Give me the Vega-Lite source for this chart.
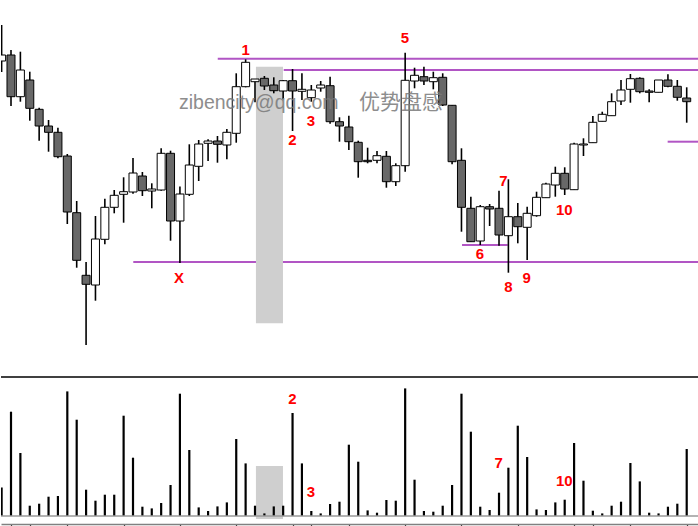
{
  "$schema": "https://vega.github.io/schema/vega-lite/v6.json",
  "padding": 0,
  "spacing": 0,
  "background": "white",
  "config": {"view": {"stroke": null}},
  "datasets": {
    "candles": [
      {"i":0,"o":43.9,"h":47.5,"l":42.8,"c":44.5,"v":2860},
      {"i":1,"o":44.5,"h":45.0,"l":39.4,"c":40.33,"v":10430},
      {"i":2,"o":40.33,"h":44.83,"l":39.83,"c":43.0,"v":6300},
      {"i":3,"o":42.0,"h":42.83,"l":37.93,"c":39.17,"v":1030},
      {"i":4,"o":39.07,"h":39.23,"l":35.93,"c":37.4,"v":1230},
      {"i":5,"o":37.4,"h":38.0,"l":34.83,"c":36.77,"v":1930},
      {"i":6,"o":36.77,"h":37.23,"l":34.17,"c":34.33,"v":2000},
      {"i":7,"o":34.4,"h":34.6,"l":27.6,"c":28.8,"v":12460},
      {"i":8,"o":28.73,"h":29.9,"l":23.23,"c":23.97,"v":9630},
      {"i":9,"o":22.47,"h":23.8,"l":15.5,"c":21.57,"v":2630},
      {"i":10,"o":21.5,"h":28.4,"l":19.93,"c":26.1,"v":1530},
      {"i":11,"o":26.07,"h":30.13,"l":25.57,"c":29.27,"v":2130},
      {"i":12,"o":29.27,"h":31.0,"l":28.67,"c":30.47,"v":2130},
      {"i":13,"o":30.57,"h":32.27,"l":27.73,"c":30.83,"v":10030},
      {"i":14,"o":30.8,"h":34.2,"l":30.63,"c":32.7,"v":5830},
      {"i":15,"o":32.4,"h":32.8,"l":30.4,"c":30.93,"v":930},
      {"i":16,"o":30.9,"h":31.67,"l":29.17,"c":31.1,"v":760},
      {"i":17,"o":31.0,"h":35.17,"l":30.93,"c":34.67,"v":1300},
      {"i":18,"o":34.67,"h":34.93,"l":25.93,"c":27.9,"v":3100},
      {"i":19,"o":27.9,"h":31.35,"l":23.7,"c":30.6,"v":12230},
      {"i":20,"o":30.57,"h":35.57,"l":30.4,"c":33.5,"v":6600},
      {"i":21,"o":33.37,"h":36.0,"l":31.9,"c":35.6,"v":860},
      {"i":22,"o":35.67,"h":36.07,"l":33.9,"c":35.9,"v":500},
      {"i":23,"o":35.9,"h":36.4,"l":33.73,"c":35.57,"v":960},
      {"i":24,"o":35.5,"h":37.1,"l":34.07,"c":36.77,"v":1360},
      {"i":25,"o":36.67,"h":42.67,"l":35.73,"c":41.33,"v":7700},
      {"i":26,"o":41.33,"h":44.07,"l":41.27,"c":43.77,"v":5260},
      {"i":27,"o":41.83,"h":42.1,"l":39.77,"c":42.1,"v":1030},
      {"i":28,"o":42.17,"h":42.4,"l":41.0,"c":41.4,"v":260},
      {"i":29,"o":41.5,"h":42.27,"l":40.67,"c":40.93,"v":960},
      {"i":30,"o":40.9,"h":42.0,"l":40.07,"c":41.93,"v":1030},
      {"i":31,"o":41.93,"h":43.1,"l":36.9,"c":40.9,"v":10300},
      {"i":32,"o":40.87,"h":42.67,"l":40.0,"c":41.07,"v":5260},
      {"i":33,"o":40.23,"h":41.5,"l":39.83,"c":41.0,"v":500},
      {"i":34,"o":41.2,"h":41.9,"l":40.83,"c":41.5,"v":260},
      {"i":35,"o":41.43,"h":42.33,"l":37.63,"c":37.83,"v":1200},
      {"i":36,"o":37.83,"h":38.27,"l":35.83,"c":37.4,"v":1430},
      {"i":37,"o":37.3,"h":38.43,"l":35.0,"c":35.83,"v":7130},
      {"i":38,"o":35.77,"h":35.93,"l":32.23,"c":33.83,"v":5430},
      {"i":39,"o":33.97,"h":35.23,"l":33.67,"c":33.83,"v":560},
      {"i":40,"o":33.97,"h":34.9,"l":33.67,"c":34.43,"v":330},
      {"i":41,"o":34.37,"h":34.9,"l":31.23,"c":31.83,"v":1600},
      {"i":42,"o":31.83,"h":33.67,"l":31.4,"c":33.43,"v":1530},
      {"i":43,"o":33.43,"h":44.73,"l":32.83,"c":41.97,"v":12760},
      {"i":44,"o":41.9,"h":43.23,"l":41.17,"c":42.47,"v":3630},
      {"i":45,"o":42.33,"h":43.33,"l":41.5,"c":41.9,"v":500},
      {"i":46,"o":41.83,"h":42.83,"l":41.07,"c":42.23,"v":430},
      {"i":47,"o":42.27,"h":42.67,"l":39.4,"c":39.5,"v":1030},
      {"i":48,"o":39.47,"h":39.47,"l":33.57,"c":33.83,"v":3100},
      {"i":49,"o":33.97,"h":35.17,"l":26.83,"c":29.27,"v":12230},
      {"i":50,"o":29.17,"h":30.33,"l":25.83,"c":25.83,"v":8430},
      {"i":51,"o":25.9,"h":29.5,"l":25.5,"c":29.33,"v":930},
      {"i":52,"o":29.33,"h":29.6,"l":27.4,"c":29.1,"v":600},
      {"i":53,"o":29.17,"h":30.93,"l":25.43,"c":26.5,"v":2330},
      {"i":54,"o":26.43,"h":32.07,"l":22.73,"c":28.33,"v":4830},
      {"i":55,"o":28.33,"h":29.7,"l":25.67,"c":27.33,"v":9030},
      {"i":56,"o":27.27,"h":29.33,"l":24.0,"c":28.67,"v":5900},
      {"i":57,"o":28.43,"h":30.83,"l":28.33,"c":30.27,"v":660},
      {"i":58,"o":30.23,"h":31.73,"l":30.23,"c":31.6,"v":600},
      {"i":59,"o":31.5,"h":33.33,"l":30.33,"c":32.67,"v":1360},
      {"i":60,"o":32.67,"h":33.27,"l":30.5,"c":31.1,"v":1630},
      {"i":61,"o":31.03,"h":35.73,"l":31.0,"c":35.6,"v":7300},
      {"i":62,"o":35.5,"h":36.17,"l":34.4,"c":35.6,"v":3530},
      {"i":63,"o":35.73,"h":38.4,"l":35.73,"c":37.77,"v":530},
      {"i":64,"o":37.87,"h":38.83,"l":37.87,"c":38.57,"v":260},
      {"i":65,"o":38.43,"h":40.67,"l":38.43,"c":39.83,"v":1030},
      {"i":66,"o":39.9,"h":42.0,"l":39.5,"c":41.0,"v":1430},
      {"i":67,"o":41.07,"h":42.6,"l":39.73,"c":42.13,"v":5300},
      {"i":68,"o":42.17,"h":42.27,"l":40.67,"c":40.83,"v":3460},
      {"i":69,"o":40.9,"h":41.07,"l":39.77,"c":40.77,"v":330},
      {"i":70,"o":40.77,"h":42.0,"l":40.77,"c":42.0,"v":260},
      {"i":71,"o":42.0,"h":42.57,"l":41.27,"c":41.37,"v":930},
      {"i":72,"o":41.37,"h":42.0,"l":39.93,"c":40.27,"v":1230},
      {"i":73,"o":40.2,"h":41.27,"l":37.73,"c":39.83,"v":6700}
    ],
    "levels": [
      {"x1":23.03,"x2":74.31,"p":44.13},
      {"x1":30.06,"x2":74.31,"p":43.0},
      {"x1":14.03,"x2":74.31,"p":23.8},
      {"x1":49.06,"x2":53.93,"p":25.5},
      {"x1":70.97,"x2":74.31,"p":35.83}
    ],
    "labels": [
      {"t":"1","i":26.0,"p":45.0},
      {"t":"2","i":31.0,"p":36.0},
      {"t":"3","i":32.97,"p":37.93},
      {"t":"5","i":42.98,"p":46.23},
      {"t":"6","i":50.97,"p":24.6},
      {"t":"7","i":53.46,"p":31.9},
      {"t":"8","i":53.99,"p":21.33},
      {"t":"9","i":55.95,"p":22.23},
      {"t":"10","i":59.96,"p":29.0},
      {"t":"X","i":18.9,"p":22.2}
    ],
    "vlabels": [
      {"t":"2","i":31.0,"v":11670},
      {"t":"3","i":32.97,"v":2400},
      {"t":"7","i":52.97,"v":5270},
      {"t":"10","i":59.96,"v":3500}
    ],
    "edges": [{"v": 0, "k": "base"}, {"v": 13900, "k": "top"}],
    "shade": [{"a": 27.1, "b": 29.98, "p1": 43.33, "p2": 17.67, "v1": 5000, "v2": -300}]
  },
  "vconcat": [
    {
      "width": 698,
      "height": 376,
      "layer": [
        {
          "data": {"name": "levels"},
          "mark": {"type": "rule", "color": "#b155c4", "strokeWidth": 2},
          "encoding": {
            "x": {"field": "x1", "type": "quantitative", "scale": {"domain": [-0.0655, 74.31], "nice": false, "zero": false, "padding": 0}, "axis": null},
            "x2": {"field": "x2"},
            "y": {"field": "p", "type": "quantitative", "scale": {"domain": [12.4, 50], "nice": false, "zero": false, "padding": 0}, "axis": null}
          }
        },
        {
          "data": {"name": "shade"},
          "mark": {"type": "rect", "color": "#cfcfcf"},
          "encoding": {
            "x": {"field": "a", "type": "quantitative"},
            "x2": {"field": "b"},
            "y": {"field": "p1", "type": "quantitative"},
            "y2": {"field": "p2"}
          }
        },
        {
          "data": {"name": "candles"},
          "mark": {"type": "rule", "color": "black", "strokeWidth": 1.6, "clip": true},
          "encoding": {
            "x": {"field": "i", "type": "quantitative"},
            "y": {"field": "l", "type": "quantitative"},
            "y2": {"field": "h"}
          }
        },
        {
          "data": {"name": "candles"},
          "mark": {"type": "bar", "size": 8, "stroke": "black", "strokeWidth": 1, "clip": true},
          "encoding": {
            "x": {"field": "i", "type": "quantitative"},
            "y": {"field": "o", "type": "quantitative"},
            "y2": {"field": "c"},
            "fill": {"condition": {"test": "datum.c >= datum.o", "value": "white"}, "value": "#686868"}
          }
        },
        {
          "data": {"values": [{"t": "zibencity@qq.com", "i": 18.9, "p": 39.13}]},
          "mark": {"type": "text", "align": "left", "baseline": "alphabetic", "font": "Liberation Sans", "fontSize": 19.5, "color": "#7a7a7a", "opacity": 0.85},
          "encoding": {
            "x": {"field": "i", "type": "quantitative"},
            "y": {"field": "p", "type": "quantitative"},
            "text": {"field": "t", "type": "nominal"}
          }
        },
        {
          "data": {"values": [{"t": "优势盘感", "i": 38.08, "p": 39.13}]},
          "mark": {"type": "text", "align": "left", "baseline": "alphabetic", "font": "Noto Sans CJK SC", "fontSize": 21, "color": "#7a7a7a", "opacity": 0.85},
          "encoding": {
            "x": {"field": "i", "type": "quantitative"},
            "y": {"field": "p", "type": "quantitative"},
            "text": {"field": "t", "type": "nominal"}
          }
        },
        {
          "data": {"name": "labels"},
          "mark": {"type": "text", "align": "center", "baseline": "middle", "font": "Liberation Sans", "fontWeight": "bold", "fontSize": 15, "color": "#ff0000"},
          "encoding": {
            "x": {"field": "i", "type": "quantitative"},
            "y": {"field": "p", "type": "quantitative"},
            "text": {"field": "t", "type": "nominal"}
          }
        }
      ]
    },
    {
      "width": 698,
      "height": 139,
      "layer": [
        {
          "data": {"name": "shade"},
          "mark": {"type": "rect", "color": "#cfcfcf"},
          "encoding": {
            "x": {"field": "a", "type": "quantitative", "scale": {"domain": [-0.0655, 74.31], "nice": false, "zero": false, "padding": 0},
              "axis": {"orient": "bottom", "offset": 8, "labels": false, "title": null, "grid": false, "ticks": true, "tickSize": 3, "tickColor": "#333333", "tickWidth": 1.2, "domainColor": "#808080", "domainWidth": 1.5,
                "values": [1, 3, 7, 13, 19, 25, 31, 33, 37, 43, 49, 55, 61, 63, 67, 73]}},
            "x2": {"field": "b"},
            "y": {"field": "v1", "type": "quantitative", "scale": {"domain": [0, 13900], "nice": false, "padding": 0}, "axis": null},
            "y2": {"field": "v2"}
          }
        },
        {
          "data": {"name": "candles"},
          "mark": {"type": "bar", "color": "black", "size": 2.2, "clip": true},
          "encoding": {
            "x": {"field": "i", "type": "quantitative"},
            "y": {"field": "v", "type": "quantitative"}
          }
        },
        {
          "data": {"name": "edges"},
          "mark": {"type": "rule", "strokeWidth": 1.5},
          "encoding": {
            "y": {"field": "v", "type": "quantitative"},
            "color": {"field": "k", "type": "nominal", "scale": {"domain": ["base", "top"], "range": ["#9a9a9a", "#000000"]}, "legend": null}
          }
        },
        {
          "data": {"name": "vlabels"},
          "mark": {"type": "text", "align": "center", "baseline": "middle", "font": "Liberation Sans", "fontWeight": "bold", "fontSize": 15, "color": "#ff0000"},
          "encoding": {
            "x": {"field": "i", "type": "quantitative"},
            "y": {"field": "v", "type": "quantitative"},
            "text": {"field": "t", "type": "nominal"}
          }
        }
      ]
    }
  ]
}
